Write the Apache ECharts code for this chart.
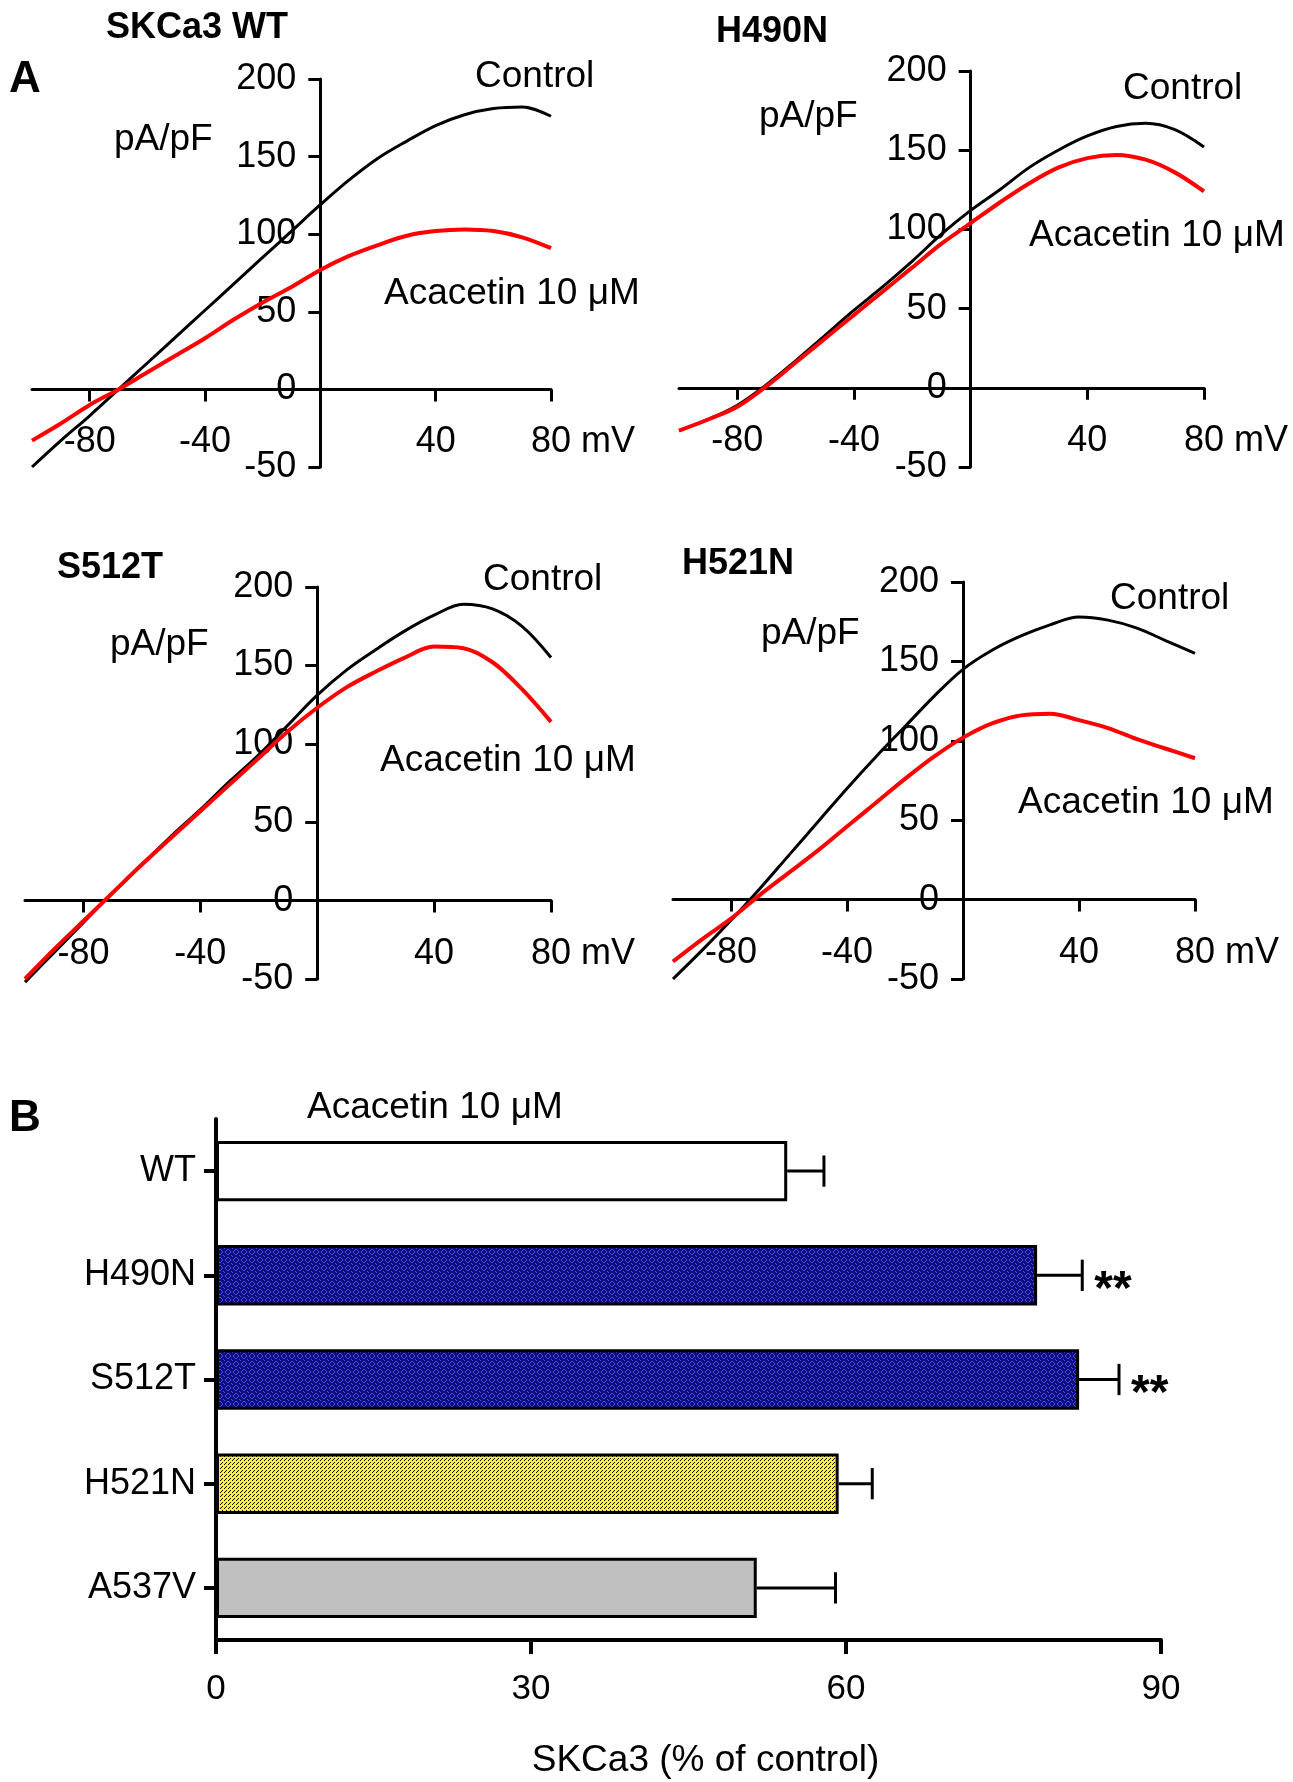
<!DOCTYPE html>
<html>
<head>
<meta charset="utf-8">
<script src="https://cdn.jsdelivr.net/npm/echarts@6/dist/echarts.min.js"></script>
<style>
  html, body { margin: 0; padding: 0; background: #fff; }
  #chart { width: 1293px; height: 1782px; }
</style>
</head>
<body>
<div id="chart"></div>
<script>
// membrane potential (mV) shared by all I-V traces
var voltage = [-100, -90, -80, -70, -60, -50, -40, -30, -20, -10, 0, 10, 20, 30, 40, 50, 60, 70, 80];

// current density (pA/pF)
var wtControl     = [-50, -33, -17, 0, 17, 34, 51, 68, 85, 102, 119, 135, 149, 160, 170, 177, 181, 182, 176];
var wtAcacetin    = [-33, -22, -10, 0, 11, 22, 33, 45, 56, 66, 77, 86, 93, 99, 102, 103, 102, 98, 91];
var h490nControl  = [-27, -20, -11, 2, 17, 33, 49, 64, 80, 97, 112, 125, 139, 150, 159, 165, 167, 163, 152];
var h490nAcacetin = [-27, -20, -12, 1, 16, 31, 46, 61, 76, 91, 104, 117, 129, 139, 145, 147, 144, 136, 124];
var s512tControl  = [-52, -33, -14, 5, 23, 41, 58, 76, 93, 112, 131, 147, 160, 172, 182, 189, 186, 175, 155];
var s512tAcacetin = [-50, -31, -13, 5, 23, 40, 57, 74, 91, 108, 123, 136, 146, 155, 162, 161, 152, 135, 114];
var h521nControl  = [-50, -32, -13, 7, 28, 49, 70, 90, 109, 128, 145, 157, 166, 173, 178, 176, 171, 163, 155];
var h521nAcacetin = [-39, -25, -12, 3, 17, 31, 46, 61, 76, 90, 102, 111, 116, 117, 113, 108, 101, 95, 89];

var xTickValues = [-80, -40, 0, 40, 80];
var xLabelValues = [-80, -40, 40, 80];

// panel B
var barCategories = ['WT', 'H490N', 'S512T', 'H521N', 'A537V'];
var barMeans  = [54.4, 78.2, 82.2, 59.3, 51.5];
var barErrors = [3.5, 4.3, 3.8, 3.2, 7.5];
var barStars  = ['', '**', '**', '', ''];

var FONT = '"Liberation Sans", Arial, sans-serif';
var VMIN = -100, VMAX = 80, IMIN = -50, IMAX = 200;

// I-V panel boxes
var ivGrids = [
  { left: 32, top: 79, width: 519, height: 388 },
  { left: 679, top: 71, width: 525, height: 396 },
  { left: 25, top: 587, width: 526, height: 392 },
  { left: 673, top: 582, width: 522, height: 397 }
];

function pairs(ys) {
  return voltage.map(function (v, i) { return [v, ys[i]]; });
}

// small canvas tiles for the hatched bar fills
function pattern(size, bg, fg, pts) {
  var c = document.createElement('canvas');
  c.width = c.height = size;
  var ctx = c.getContext('2d');
  ctx.fillStyle = bg;
  ctx.fillRect(0, 0, size, size);
  ctx.fillStyle = fg;
  pts.forEach(function (p) { ctx.fillRect(p[0], p[1], 1, 1); });
  return { image: c, repeat: 'repeat' };
}
var bluePattern = pattern(8, '#10107a', '#4848ff',
  [[3, 1], [4, 1], [2, 2], [5, 2], [1, 3], [6, 3], [1, 4], [6, 4], [2, 5], [5, 5], [3, 6], [4, 6], [0, 0], [7, 7]]);
var yellowPattern = pattern(4, '#ffff00', '#000000', [[0, 0], [2, 2], [1, 3]]);
var barColors = ['#ffffff', bluePattern, bluePattern, yellowPattern, '#c0c0c0'];

// axes cross at 0 mV / 0 pA/pF: shift the whole axis (line, ticks, labels) there
function ivX(i) {
  var g = ivGrids[i];
  return {
    type: 'value', gridIndex: i, min: VMIN, max: VMAX,
    offset: -g.height * (0 - IMIN) / (IMAX - IMIN),
    axisLine: { show: true, onZero: false, lineStyle: { color: '#000', width: 3 } },
    axisTick: { show: true, customValues: xTickValues, length: 12, lineStyle: { color: '#000', width: 3 } },
    axisLabel: {
      customValues: xLabelValues, margin: 35, fontSize: 36, color: '#000', fontFamily: FONT,
      formatter: function (v) { return v === 80 ? '{h|mV} 80 {u|mV}' : String(v); },
      rich: {
        h: { fontSize: 36, fontFamily: FONT, color: 'rgba(0,0,0,0)' },
        u: { fontSize: 36, fontFamily: FONT, color: '#000' }
      }
    },
    splitLine: { show: false }
  };
}
function ivY(i) {
  var g = ivGrids[i];
  return {
    type: 'value', gridIndex: i, min: IMIN, max: IMAX, interval: 50,
    offset: -g.width * (0 - VMIN) / (VMAX - VMIN),
    axisLine: { show: true, onZero: false, lineStyle: { color: '#000', width: 3 } },
    axisTick: { show: true, length: 12, lineStyle: { color: '#000', width: 3 } },
    axisLabel: { margin: 24, fontSize: 36, color: '#000', fontFamily: FONT },
    splitLine: { show: false }
  };
}
function trace(i, ys, color, width) {
  return {
    type: 'line', xAxisIndex: i, yAxisIndex: i, data: pairs(ys),
    smooth: 0.35, showSymbol: false, silent: true, clip: false,
    lineStyle: { color: color, width: width }
  };
}
function txt(x, y, s, size, bold) {
  return {
    type: 'text', x: x, y: y, silent: true,
    style: { text: s, fill: '#000', fontSize: size, fontWeight: bold ? 'bold' : 'normal',
             fontFamily: FONT, verticalAlign: 'middle', align: 'left' }
  };
}

var chart = echarts.init(document.getElementById('chart'));
chart.setOption({
  animation: false,
  backgroundColor: '#fff',
  grid: ivGrids.map(function (g) {
    return { left: g.left, top: g.top, width: g.width, height: g.height, outerBoundsMode: 'none' };
  }).concat([{ left: 216, top: 1119, width: 945, height: 521, outerBoundsMode: 'none' }]),
  xAxis: [ivX(0), ivX(1), ivX(2), ivX(3), {
    type: 'value', gridIndex: 4, min: 0, max: 90, interval: 30,
    axisLine: { show: true, lineStyle: { color: '#000', width: 4 } },
    axisTick: { show: true, length: 14, lineStyle: { color: '#000', width: 4 } },
    axisLabel: { margin: 32, fontSize: 35, color: '#000', fontFamily: FONT },
    splitLine: { show: false },
    name: 'SKCa3 (% of control)', nameLocation: 'middle', nameGap: 102,
    nameTextStyle: { fontSize: 37, color: '#000', fontFamily: FONT, padding: [0, 0, 0, 34] }
  }],
  yAxis: [ivY(0), ivY(1), ivY(2), ivY(3), {
    type: 'category', gridIndex: 4, data: barCategories, inverse: true,
    axisLine: { show: true, lineStyle: { color: '#000', width: 4 } },
    axisTick: { show: true, alignWithLabel: true, length: 12, lineStyle: { color: '#000', width: 4 } },
    axisLabel: { margin: 20, fontSize: 36, color: '#000', fontFamily: FONT },
    splitLine: { show: false }
  }],
  series: [
    trace(0, wtControl, '#000', 3), trace(0, wtAcacetin, '#ff0000', 4),
    trace(1, h490nControl, '#000', 3), trace(1, h490nAcacetin, '#ff0000', 4),
    trace(2, s512tControl, '#000', 3), trace(2, s512tAcacetin, '#ff0000', 4),
    trace(3, h521nControl, '#000', 3), trace(3, h521nAcacetin, '#ff0000', 4),
    {
      type: 'bar', xAxisIndex: 4, yAxisIndex: 4, barWidth: '58%', silent: true,
      data: barMeans.map(function (m, i) {
        return { value: m, itemStyle: { color: barColors[i], borderColor: '#000', borderWidth: 3 } };
      })
    },
    {
      type: 'custom', xAxisIndex: 4, yAxisIndex: 4, silent: true,
      data: barMeans.map(function (m, i) { return [m, i, barErrors[i]]; }),
      encode: { x: 0, y: 1 },
      renderItem: function (params, api) {
        var i = api.value(1);
        var a = api.coord([api.value(0), i]);
        var b = api.coord([api.value(0) + api.value(2), i]);
        var cap = api.size([0, 1])[1] * 0.3;
        var lineStyle = { stroke: '#000', lineWidth: 3 };
        var kids = [
          { type: 'line', shape: { x1: a[0], y1: a[1], x2: b[0], y2: b[1] }, style: lineStyle },
          { type: 'line', shape: { x1: b[0], y1: b[1] - cap / 2, x2: b[0], y2: b[1] + cap / 2 }, style: lineStyle }
        ];
        if (barStars[params.dataIndex]) {
          kids.push({
            type: 'text', x: b[0] + 12, y: b[1] + 15,
            style: { text: barStars[params.dataIndex], fill: '#000', fontSize: 48,
                     fontWeight: 'bold', fontFamily: FONT, verticalAlign: 'middle' }
          });
        }
        return { type: 'group', children: kids };
      }
    }
  ],
  graphic: [
    txt(9, 80, 'A', 44, true),
    txt(106, 28, 'SKCa3 WT', 36, true),
    txt(114, 140, 'pA/pF', 37),
    txt(475, 77, 'Control', 37),
    txt(384, 294, 'Acacetin 10 μM', 37),

    txt(716, 32, 'H490N', 36, true),
    txt(759, 117, 'pA/pF', 37),
    txt(1123, 89, 'Control', 37),
    txt(1029, 236, 'Acacetin 10 μM', 37),

    txt(57, 568, 'S512T', 36, true),
    txt(110, 645, 'pA/pF', 37),
    txt(483, 580, 'Control', 37),
    txt(380, 761, 'Acacetin 10 μM', 37),

    txt(682, 564, 'H521N', 36, true),
    txt(761, 634, 'pA/pF', 37),
    txt(1110, 599, 'Control', 37),
    txt(1018, 803, 'Acacetin 10 μM', 37),

    txt(9, 1119, 'B', 44, true),
    txt(307, 1108, 'Acacetin 10 μM', 37)
  ]
});
</script>
</body>
</html>
